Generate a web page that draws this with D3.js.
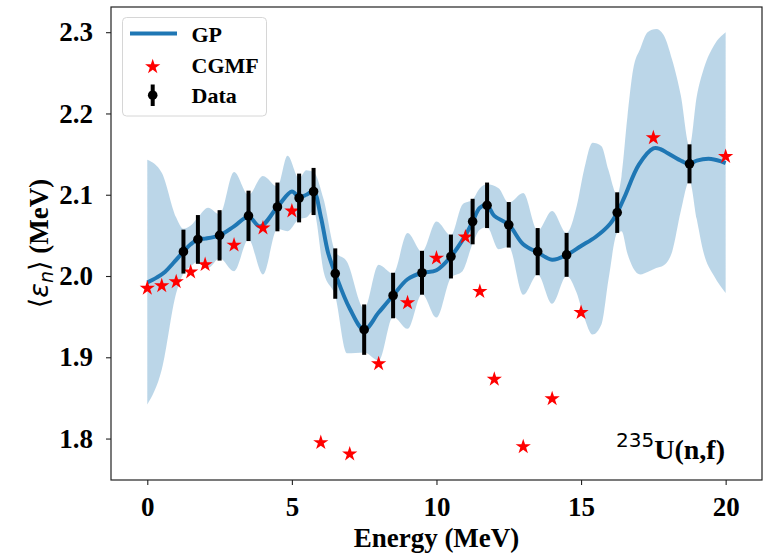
<!DOCTYPE html>
<html>
<head>
<meta charset="utf-8">
<script src="https://cdn.jsdelivr.net/npm/d3@7"></script>
<style>
  body { margin: 0; background: #fff; }
  svg { display: block; }
  .tick text { font-family: "Liberation Serif", "Times New Roman", serif; font-weight: bold; }
</style>
</head>
<body>
<div id="chart"></div>
<script>
// GP mean curve
var gpE = [0, 0.32, 0.61, 0.9, 1.25, 1.5, 1.75, 2.0, 2.5, 3.0, 3.5, 3.9, 4.5, 5.0, 5.25, 5.5, 5.75,
  6.0, 6.25, 6.5, 7.0, 7.5, 8.0, 8.5, 9.0, 9.5, 10.0, 10.5, 11.0, 11.25, 11.5, 11.75,
  12.0, 12.5, 13.0, 13.5, 14.0, 14.5, 15.0, 15.5, 16.0, 16.25, 16.5, 17.0, 17.5, 17.75,
  18.0, 18.5, 18.75, 19.0, 19.5, 20.0];
var gpV = [1.992, 1.998, 2.005, 2.016, 2.030, 2.039, 2.045, 2.046, 2.050, 2.061, 2.073, 2.061, 2.085, 2.104, 2.097, 2.100, 2.104,
  2.073, 2.029, 2.003, 1.960, 1.934, 1.955, 1.976, 1.996, 2.004, 2.007, 2.024, 2.050, 2.067, 2.084, 2.087,
  2.074, 2.063, 2.039, 2.029, 2.020, 2.026, 2.037, 2.048, 2.064, 2.078, 2.097, 2.137, 2.157, 2.156,
  2.151, 2.141, 2.138, 2.142, 2.144, 2.139];

// GP uncertainty band
var bandE = [0, 0.5, 1.0, 1.25, 1.5, 1.75, 2.1, 2.5, 3.0, 3.5, 4.0, 4.5, 4.85, 5.25, 5.5, 5.75,
  6.1, 6.5, 6.9, 7.5, 8.0, 8.5, 9.0, 9.5, 10.0, 10.5, 10.9, 11.25, 11.5, 11.75, 12.15, 12.5,
  13.0, 13.5, 14.0, 14.5, 14.85, 15.1, 15.4, 15.7, 15.95, 16.25, 16.4, 16.6, 16.8, 17.05,
  17.3, 17.6, 17.85, 18.15, 18.45, 18.75, 19.0, 19.25, 19.6, 20.0];
var bandHi = [2.143, 2.127, 2.072, 2.058, 2.062, 2.072, 2.084, 2.076, 2.128, 2.100, 2.123, 2.110, 2.148, 2.120, 2.130, 2.128,
  2.094, 2.030, 2.018, 1.960, 2.014, 2.003, 2.053, 2.030, 2.067, 2.050, 2.088, 2.094, 2.108, 2.113, 2.108, 2.090,
  2.102, 2.056, 2.080, 2.053, 2.086, 2.130, 2.164, 2.160, 2.130, 2.100, 2.123, 2.195, 2.254, 2.280,
  2.300, 2.304, 2.297, 2.266, 2.222, 2.160, 2.221, 2.256, 2.284, 2.300];
var bandLo = [1.842, 1.885, 1.979, 2.003, 2.012, 2.018, 2.010, 2.022, 2.006, 2.045, 2.002, 2.058, 2.055, 2.070, 2.072, 2.080,
  2.005, 1.975, 1.905, 1.906, 1.896, 1.950, 1.935, 1.978, 1.949, 1.998, 2.006, 2.040, 2.057, 2.060, 2.033, 2.036,
  1.977, 2.002, 1.966, 2.000, 1.979, 1.950, 1.928, 1.940, 1.996, 2.053, 2.055, 2.028, 2.010, 2.002,
  2.005, 2.010, 2.013, 2.030, 2.080, 2.117, 2.070, 2.027, 2.000, 1.979];

// CGMF calculation
var cgmfE = [0, 0.5, 1, 1.5, 2, 3, 4, 5, 6, 7, 8, 9, 10, 11, 11.5, 12, 13, 14, 15, 17.5, 20];
var cgmfV = [1.985, 1.988, 1.993, 2.005, 2.014, 2.038, 2.059, 2.080, 1.795, 1.781, 1.892, 1.967, 2.022,
  2.048, 1.981, 1.873, 1.790, 1.849, 1.955, 2.170, 2.147];

// experimental data
var dataE = [1.25, 1.75, 2.5, 3.5, 4.5, 5.25, 5.75, 6.5, 7.5, 8.5, 9.5, 10.5, 11.25, 11.75, 12.5,
  13.5, 14.5, 16.25, 18.75];
var dataV = [2.030, 2.045, 2.050, 2.074, 2.085, 2.096, 2.104, 2.003, 1.934, 1.976, 2.004, 2.024, 2.067,
  2.087, 2.063, 2.030, 2.026, 2.078, 2.138];
var dataErr = [0.027, 0.030, 0.031, 0.031, 0.030, 0.030, 0.029, 0.031, 0.031, 0.028, 0.027, 0.027, 0.028,
  0.028, 0.028, 0.029, 0.027, 0.025, 0.024];

var xTicks = [0, 5, 10, 15, 20];
var yTicks = [1.8, 1.9, 2.0, 2.1, 2.2, 2.3];

var width = 763, height = 557;
var mLeft = 111, mRight = 762, mTop = 7, mBottom = 480;
var blue = "#1f77b4";
var serif = "'Liberation Serif', 'Times New Roman', serif";

var svg = d3.select("#chart").append("svg")
  .attr("width", width)
  .attr("height", height);

var x = d3.scaleLinear().domain([-1.255, 21.257]).range([mLeft, mRight]);
var y = d3.scaleLinear().domain([1.749, 2.331]).range([mBottom, mTop]);

var plot = svg.append("g");

// band
var band = d3.area()
  .x(function(d) { return x(d[0]); })
  .y0(function(d) { return y(d[1]); })
  .y1(function(d) { return y(d[2]); })
  .curve(d3.curveMonotoneX);
plot.append("path")
  .datum(bandE.map(function(e, i) { return [e, bandLo[i], bandHi[i]]; }))
  .attr("d", band)
  .attr("fill", blue)
  .attr("fill-opacity", 0.3);

// GP line
var line = d3.line()
  .x(function(d) { return x(d[0]); })
  .y(function(d) { return y(d[1]); })
  .curve(d3.curveCatmullRom.alpha(0.5));
plot.append("path")
  .datum(gpE.map(function(e, i) { return [e, gpV[i]]; }))
  .attr("d", line)
  .attr("fill", "none")
  .attr("stroke", blue)
  .attr("stroke-width", 4);

// CGMF stars
var star = d3.symbol().type(d3.symbolStar).size(72);
plot.selectAll(".cgmf")
  .data(cgmfE.map(function(e, i) { return [e, cgmfV[i]]; }))
  .enter().append("path")
    .attr("class", "cgmf")
    .attr("d", star)
    .attr("transform", function(d) { return "translate(" + x(d[0]) + "," + y(d[1]) + ")"; })
    .attr("fill", "red");

// data with error bars
var pts = dataE.map(function(e, i) { return [e, dataV[i], dataErr[i]]; });
plot.selectAll(".err")
  .data(pts)
  .enter().append("line")
    .attr("class", "err")
    .attr("x1", function(d) { return x(d[0]); })
    .attr("x2", function(d) { return x(d[0]); })
    .attr("y1", function(d) { return y(d[1] - d[2]); })
    .attr("y2", function(d) { return y(d[1] + d[2]); })
    .attr("stroke", "black")
    .attr("stroke-width", 4);
plot.selectAll(".dot")
  .data(pts)
  .enter().append("circle")
    .attr("class", "dot")
    .attr("cx", function(d) { return x(d[0]); })
    .attr("cy", function(d) { return y(d[1]); })
    .attr("r", 4.8)
    .attr("fill", "black");

// axes
var xAxis = svg.append("g")
  .attr("transform", "translate(0," + mBottom + ")")
  .call(d3.axisBottom(x).tickValues(xTicks).tickSize(5).tickPadding(12));
var yAxis = svg.append("g")
  .attr("transform", "translate(" + mLeft + ",0)")
  .call(d3.axisLeft(y).tickValues(yTicks).tickSize(5).tickPadding(13).tickFormat(d3.format(".1f")));
[xAxis, yAxis].forEach(function(a) {
  a.select(".domain").remove();
  a.selectAll(".tick line").attr("stroke", "#222").attr("stroke-width", 1.1);
  a.selectAll(".tick text").attr("font-size", 27).attr("fill", "black");
});

// frame
svg.append("rect")
  .attr("x", mLeft).attr("y", mTop)
  .attr("width", mRight - mLeft).attr("height", mBottom - mTop)
  .attr("fill", "none")
  .attr("stroke", "#222")
  .attr("stroke-width", 1.2);

// axis labels
svg.append("text")
  .attr("x", (mLeft + mRight) / 2)
  .attr("y", 547)
  .attr("text-anchor", "middle")
  .attr("font-family", serif)
  .attr("font-weight", "bold")
  .attr("font-size", 27)
  .text("Energy (MeV)");

var ylab = svg.append("text")
  .attr("transform", "translate(48," + (mTop + mBottom) / 2 + ") rotate(-90)")
  .attr("text-anchor", "middle")
  .attr("font-size", 27);
ylab.append("tspan").attr("font-family", "DejaVu Sans").text("\u27e8");
ylab.append("tspan").attr("font-family", "DejaVu Sans").attr("font-style", "italic").text("\u03b5");
ylab.append("tspan").attr("font-family", "DejaVu Sans").attr("font-style", "italic")
  .attr("font-size", 19).attr("dy", 5).text("n");
ylab.append("tspan").attr("font-family", "DejaVu Sans").attr("dy", -5).text("\u27e9");
ylab.append("tspan").attr("font-family", serif).attr("font-weight", "bold").text(" (MeV)");

// reaction label
var note = svg.append("text")
  .attr("x", 725)
  .attr("y", 459)
  .attr("text-anchor", "end");
note.append("tspan").attr("font-family", "DejaVu Sans").attr("font-size", 20).attr("dy", -12).text("235");
note.append("tspan").attr("font-family", serif).attr("font-weight", "bold").attr("font-size", 28)
  .attr("dy", 12).text("U(n,f)");

// legend
var leg = svg.append("g");
leg.append("rect")
  .attr("x", 122.5).attr("y", 17.5)
  .attr("width", 144).attr("height", 98.5)
  .attr("rx", 4).attr("ry", 4)
  .attr("fill", "white").attr("fill-opacity", 0.8)
  .attr("stroke", "#d6d6d6").attr("stroke-width", 1);
leg.append("line")
  .attr("x1", 130).attr("x2", 177).attr("y1", 33.5).attr("y2", 33.5)
  .attr("stroke", blue).attr("stroke-width", 4);
leg.append("path")
  .attr("d", star)
  .attr("transform", "translate(152.7,66.7)")
  .attr("fill", "red");
leg.append("line")
  .attr("x1", 152.7).attr("x2", 152.7).attr("y1", 84.5).attr("y2", 106)
  .attr("stroke", "black").attr("stroke-width", 4);
leg.append("circle")
  .attr("cx", 152.7).attr("cy", 95.2).attr("r", 4.8).attr("fill", "black");
var legLabels = ["GP", "CGMF", "Data"];
var legBase = [41.7, 72.7, 103.3];
leg.selectAll(".legtext")
  .data(legLabels)
  .enter().append("text")
    .attr("class", "legtext")
    .attr("x", 191.5)
    .attr("y", function(d, i) { return legBase[i]; })
    .attr("font-family", serif)
    .attr("font-weight", "bold")
    .attr("font-size", 22)
    .text(function(d) { return d; });
</script>
</body>
</html>
